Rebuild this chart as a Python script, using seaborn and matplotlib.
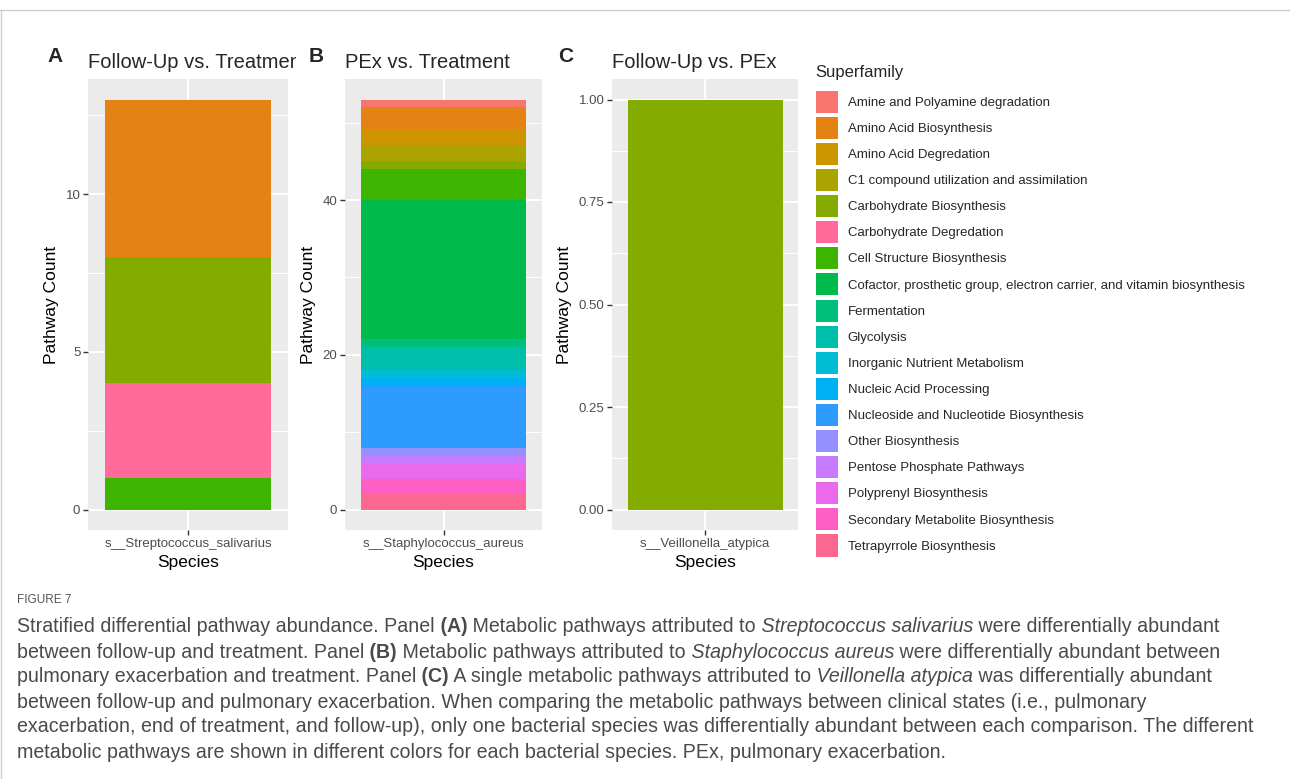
import pandas as pd
import matplotlib
matplotlib.use("Agg")
import matplotlib.pyplot as plt
from matplotlib.patches import Patch
from matplotlib.lines import Line2D
from matplotlib.ticker import FormatStrFormatter
from matplotlib.transforms import Bbox
import seaborn as sns

superfamily = [
    "Amine and Polyamine degradation",
    "Amino Acid Biosynthesis",
    "Amino Acid Degredation",
    "C1 compound utilization and assimilation",
    "Carbohydrate Biosynthesis",
    "Carbohydrate Degredation",
    "Cell Structure Biosynthesis",
    "Cofactor, prosthetic group, electron carrier, and vitamin biosynthesis",
    "Fermentation",
    "Glycolysis",
    "Inorganic Nutrient Metabolism",
    "Nucleic Acid Processing",
    "Nucleoside and Nucleotide Biosynthesis",
    "Other Biosynthesis",
    "Pentose Phosphate Pathways",
    "Polyprenyl Biosynthesis",
    "Secondary Metabolite Biosynthesis",
    "Tetrapyrrole Biosynthesis",
]
palette = [
    "#F8766D", "#E58214", "#CD9600", "#ABA300", "#84AB00", "#FF6A9B",
    "#3DB400", "#00BA4C", "#00BF7D", "#00BFAA", "#00BCD4", "#00B0F4",
    "#2E9CFF", "#9590FF", "#C77CFF", "#E96AEA", "#FD5FC4", "#FA6790",
]

species_a = "s__Streptococcus_salivarius"
species_b = "s__Staphylococcus_aureus"
species_c = "s__Veillonella_atypica"

counts_a = [0, 5, 0, 0, 4, 3, 1, 0, 0, 0, 0, 0, 0, 0, 0, 0, 0, 0]
counts_b = [1, 3, 2, 2, 1, 0, 4, 18, 1, 3, 1, 1, 8, 1, 1, 2, 2, 2]
counts_c = [0, 0, 0, 0, 1, 0, 0, 0, 0, 0, 0, 0, 0, 0, 0, 0, 0, 0]

titles = ["Follow-Up vs. Treatment", "PEx vs. Treatment", "Follow-Up vs. PEx"]

sns.set_style("darkgrid", {"axes.facecolor": "#EBEBEB", "grid.color": "white"})
plt.rcParams["font.family"] = ["Liberation Sans", "DejaVu Sans"]

W, H = 1290, 779
fig = plt.figure(figsize=(W / 100, H / 100), dpi=100)
fig.patch.set_facecolor("white")


def px_axes(x0, x1, y0, y1):
    return fig.add_axes([x0 / W, 1 - y1 / H, (x1 - x0) / W, (y1 - y0) / H])


def stacked(ax, species, counts, ymax, major, minor, fmt):
    df = pd.DataFrame({"Superfamily": superfamily, "count": counts, "color": palette})
    df = df[df["count"] > 0].copy()
    # ggplot puts the first level on top: draw running totals, tallest first
    df["top"] = df["count"][::-1].cumsum()[::-1]
    for _, row in df.iterrows():
        sns.barplot(x=[species], y=[row["top"]], color=row["color"], saturation=1,
                    width=0.9, linewidth=0, errorbar=None, ax=ax)
    ax.set_xlim(-0.54, 0.54)
    ax.set_ylim(-0.05 * ymax, 1.05 * ymax)
    ax.set_yticks(major)
    ax.set_yticks(minor, minor=True)
    ax.yaxis.set_major_formatter(FormatStrFormatter(fmt))
    ax.grid(True, which="major", color="white", lw=1.4)
    ax.grid(True, which="minor", axis="y", color="white", lw=0.7)
    ax.set_axisbelow(True)
    for s in ax.spines.values():
        s.set_visible(False)
    ax.tick_params(which="major", bottom=True, left=True, length=3.5, width=1,
                   color="#333333", labelcolor="#4D4D4D", labelsize=9.5, pad=2)
    ax.tick_params(which="minor", length=0)
    ax.set_xlabel("Species", fontsize=12.5, color="black", labelpad=4)
    ax.set_ylabel("Pathway Count", fontsize=12.5, color="black", labelpad=5)


ax_a = px_axes(88, 288, 79, 530)
ax_b = px_axes(345, 542, 79, 530)
ax_c = px_axes(612, 798, 79, 530)

stacked(ax_a, species_a, counts_a, 13, [0, 5, 10], [2.5, 7.5, 12.5], "%d")
stacked(ax_b, species_b, counts_b, 53, [0, 20, 40], [10, 30, 50], "%d")
stacked(ax_c, species_c, counts_c, 1, [0, 0.25, 0.5, 0.75, 1.0],
        [0.125, 0.375, 0.625, 0.875], "%.2f")

# titles, clipped at the right edge of each plot area like the original
clips = [296, 560, W]
for ax, t, cx in zip([ax_a, ax_b, ax_c], titles, clips):
    tt = ax.set_title(t, loc="left", fontsize=14.5, pad=8)
    tt.set_clip_box(Bbox([[0, 0], [cx, H]]))
    tt.set_clip_on(True)

for letter, x in zip(["A", "B", "C"], [55, 316, 566]):
    fig.text(x / W, 1 - 57 / H, letter, fontsize=15, fontweight="bold",
             ha="center", va="center")

handles = [Patch(facecolor=c, edgecolor="none") for c in palette]
leg = fig.legend(handles, superfamily, title="Superfamily", loc="upper left",
                 bbox_to_anchor=(809 / W, 1 - 58 / H), frameon=False,
                 fontsize=9.5, title_fontsize=12, handlelength=1.67,
                 handleheight=2.19, labelspacing=0.31, handletextpad=0.75,
                 borderpad=0, alignment="left")
leg._legend_box.sep = 8

# frame lines of the page
fig.add_artist(Line2D([0, 1], [1 - 10 / H] * 2, color="#CCCCCC", lw=1))
fig.add_artist(Line2D([0.5 / W] * 2, [0, 1 - 10 / H], color="#CCCCCC", lw=1))

# caption
fig.text(17 / W, 1 - 600 / H, "FIGURE 7", fontsize=8.5, color="#555555",
         va="center")

n, b, i = ("normal", "normal"), ("bold", "normal"), ("normal", "italic")
caption = [
    [("Stratified differential pathway abundance. Panel", n), (" (A)", b),
     (" Metabolic pathways attributed to", n), (" Streptococcus salivarius", i),
     (" were differentially abundant", n)],
    [("between follow-up and treatment. Panel", n), (" (B)", b),
     (" Metabolic pathways attributed to", n), (" Staphylococcus aureus", i),
     (" were differentially abundant between", n)],
    [("pulmonary exacerbation and treatment. Panel", n), (" (C)", b),
     (" A single metabolic pathways attributed to", n), (" Veillonella atypica", i),
     (" was differentially abundant", n)],
    [("between follow-up and pulmonary exacerbation. When comparing the metabolic "
      "pathways between clinical states (i.e., pulmonary", n)],
    [("exacerbation, end of treatment, and follow-up), only one bacterial species "
      "was differentially abundant between each comparison. The different", n)],
    [("metabolic pathways are shown in different colors for each bacterial "
      "species. PEx, pulmonary exacerbation.", n)],
]
renderer = fig.canvas.get_renderer()
for k, line in enumerate(caption):
    x = 17 / W
    y = 1 - (627 + 25 * k) / H
    for s, (wt, st) in line:
        t = fig.text(x, y, s, fontsize=14.1, color="#4A4A4A", fontweight=wt,
                     fontstyle=st, va="center")
        x += t.get_window_extent(renderer=renderer).width / W

fig.savefig("out.png", dpi=100)
